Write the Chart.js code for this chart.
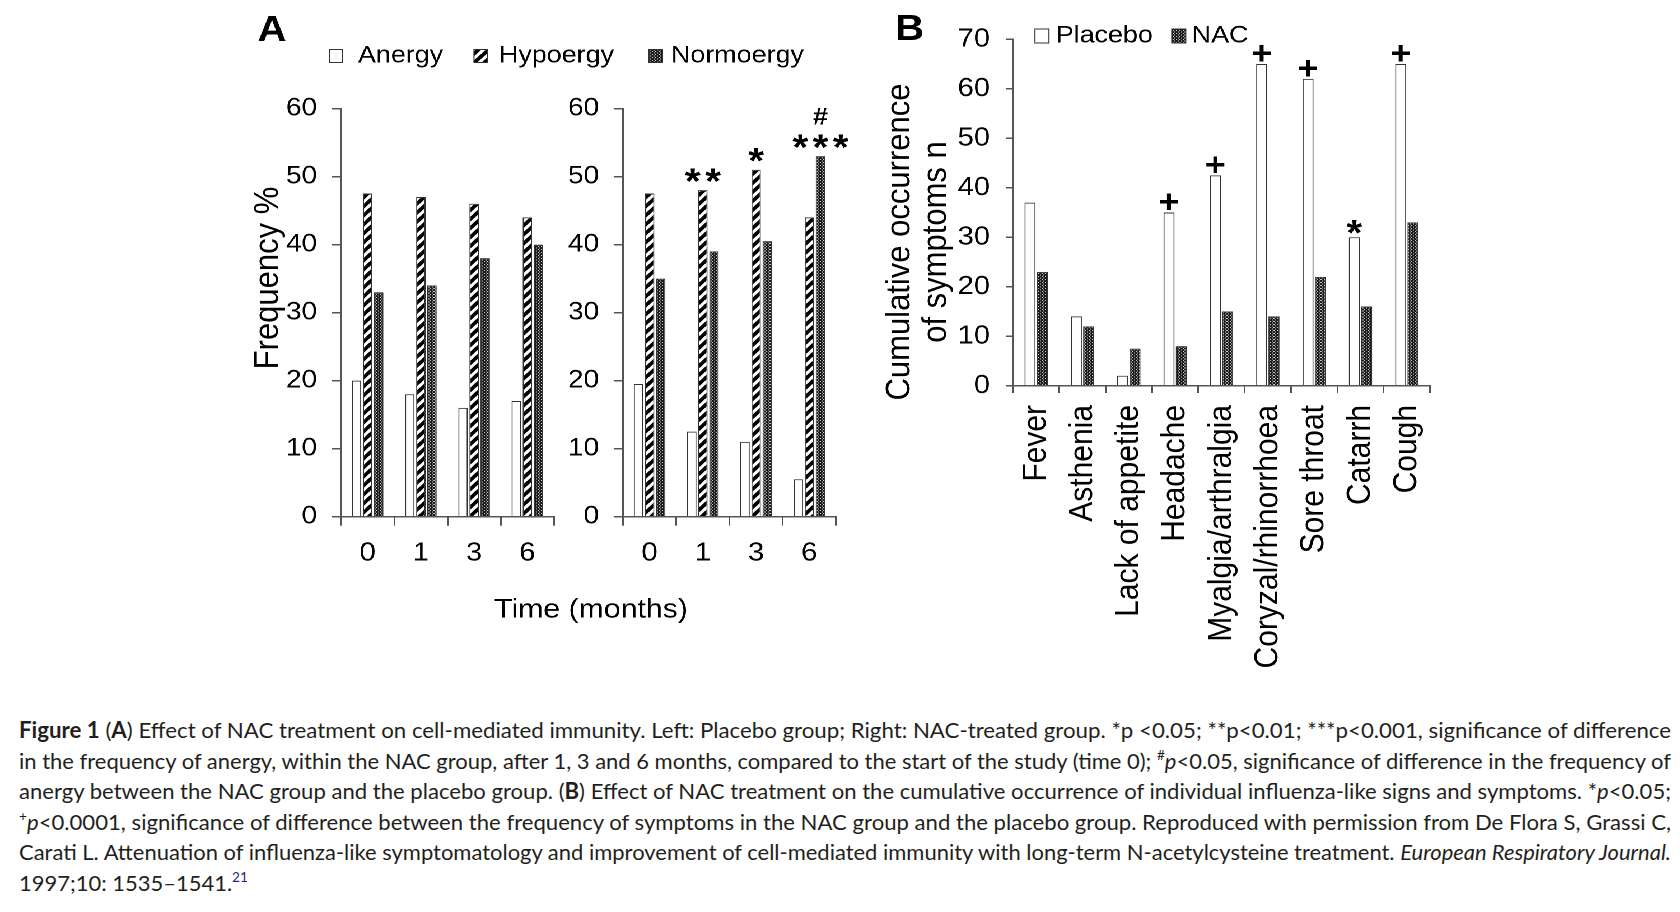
<!DOCTYPE html>
<html>
<head>
<meta charset="utf-8">
<script src="https://cdn.jsdelivr.net/npm/chart.js@4.4.1/dist/chart.umd.min.js"></script>
<style>
  html, body { margin: 0; padding: 0; background: #fff; }
  body { width: 1680px; height: 912px; position: relative; overflow: hidden; }
  /* the figure in the reference is stretched sideways, so draw narrower and widen it */
  #figure { position: absolute; left: 0; top: 0; width: 1500px; height: 700px; transform: scaleX(1.12); transform-origin: 0 0; }
  #figure canvas { position: absolute; left: 0; top: 0; }
  #caption { position: absolute; left: 19px; top: 715px; font-family: Lato, 'Open Sans', sans-serif; font-size: 22px; line-height: 30.6px; color: #231f20; }
  #caption .line { white-space: nowrap; height: 30.6px; }
  #caption .line span.t { display: inline-block; transform-origin: 0 50%; }
  #caption sup { font-size: 0.62em; line-height: 0; vertical-align: 0.65em; }
  #caption .ref { color: #1f2a8a; }
</style>
</head>
<body>
<div id="figure">
  <canvas id="chartA1" width="1500" height="700"></canvas>
  <canvas id="chartA2" width="1500" height="700"></canvas>
  <canvas id="chartB" width="1500" height="700"></canvas>
</div>
<div id="caption">
  <div class="line"><span class="t"><b>Figure 1</b> (<b>A</b>) Effect of NAC treatment on cell-mediated immunity. Left: Placebo group; Right: NAC-treated group. *p &lt;0.05; **p&lt;0.01; ***p&lt;0.001, significance of difference</span></div>
  <div class="line"><span class="t">in the frequency of anergy, within the NAC group, after 1, 3 and 6 months, compared to the start of the study (time 0); <sup>#</sup><i>p</i>&lt;0.05, significance of difference in the frequency of</span></div>
  <div class="line"><span class="t">anergy between the NAC group and the placebo group. (<b>B</b>) Effect of NAC treatment on the cumulative occurrence of individual influenza-like signs and symptoms. *<i>p</i>&lt;0.05;</span></div>
  <div class="line"><span class="t"><sup>+</sup><i>p</i>&lt;0.0001, significance of difference between the frequency of symptoms in the NAC group and the placebo group. Reproduced with permission from De Flora S, Grassi C,</span></div>
  <div class="line"><span class="t">Carati L. Attenuation of influenza-like symptomatology and improvement of cell-mediated immunity with long-term N-acetylcysteine treatment. <i>European Respiratory Journal.</i></span></div>
  <div class="line"><span class="t last">1997;10: 1535–1541.<sup class="ref">21</sup></span></div>
</div>
<script>
const SX = 1.12;
const W = 1500, H = 700;

// panel A: frequency % by time (months)
const timeLabels = ['0', '1', '3', '6'];
const placeboAnergy = [20, 18, 16, 17];
const placeboHypoergy = [47.5, 47, 46, 44];
const placeboNormoergy = [33, 34, 38, 40];
const nacAnergy = [19.5, 12.5, 11, 5.5];
const nacHypoergy = [47.5, 48, 51, 44];
const nacNormoergy = [35, 39, 40.5, 53];
const nacStars = ['', '**', '*', '***'];
const nacHash = ['', '', '', '#'];
const frequencyTicks = [0, 10, 20, 30, 40, 50, 60];

// panel B: cumulative occurrence of symptoms
const symptoms = ['Fever', 'Asthenia', 'Lack of appetite', 'Headache', 'Myalgia/arthralgia', 'Coryzal/rhinorrhoea', 'Sore throat', 'Catarrh', 'Cough'];
const symptomPlacebo = [37, 14, 2, 35, 42.5, 65, 62, 30, 65];
const symptomNac = [23, 12, 7.5, 8, 15, 14, 22, 16, 33];
const symptomMarks = ['', '', '', '+', '+', '+', '+', '*', '+'];
const occurrenceTicks = [0, 10, 20, 30, 40, 50, 60, 70];

Chart.defaults.font.family = '"Liberation Sans", Arial, sans-serif';
Chart.defaults.color = '#000';

const AXIS = '#555';
const EDGE = '#333';

function tile(size, paint) {
  const c = document.createElement('canvas');
  c.width = c.height = size;
  const g = c.getContext('2d');
  paint(g, size);
  const p = g.createPattern(c, 'repeat');
  p.setTransform(new DOMMatrix().scale(0.5));
  return p;
}

const stripes = tile(18, (g, s) => {
  g.fillStyle = '#fff';
  g.fillRect(0, 0, s, s);
  g.strokeStyle = '#000';
  g.lineWidth = 7;
  g.beginPath();
  g.moveTo(-4, s + 4); g.lineTo(s + 4, -4);
  g.moveTo(-4, 4); g.lineTo(4, -4);
  g.moveTo(s - 4, s + 4); g.lineTo(s + 4, s - 4);
  g.stroke();
});

const dots = tile(6, (g, s) => {
  g.fillStyle = '#1c1c1c';
  g.fillRect(0, 0, s, s);
  g.fillStyle = '#c8c8c8';
  g.fillRect(0, 0, 2, 2);
  g.fillRect(3, 3, 2, 2);
});

function padFor(area, yW, xH) {
  return { left: area.left - yW, right: W - area.right, top: area.top, bottom: H - area.bottom - xH };
}

function yAxis(ticks, width, tickLen, pad, size) {
  return {
    min: ticks[0], max: ticks[ticks.length - 1],
    afterBuildTicks: s => { s.ticks = ticks.map(v => ({ value: v })); },
    ticks: { font: { size: size }, padding: pad },
    grid: { drawOnChartArea: false, drawTicks: true, tickLength: tickLen, color: AXIS, lineWidth: 1.5 },
    border: { color: AXIS, width: 1.5 },
    afterFit: s => { s.width = width; }
  };
}

function xAxis(height, tickLen, pad, size, rotation) {
  return {
    ticks: { font: { size: size }, padding: pad, autoSkip: false, minRotation: rotation, maxRotation: rotation },
    grid: { offset: true, drawOnChartArea: false, drawTicks: true, tickLength: tickLen, color: AXIS, lineWidth: 1.5 },
    border: { color: AXIS, width: 1.5 },
    afterFit: s => { s.height = height; }
  };
}

function bars(label, data, fill) {
  return { label: label, data: data, backgroundColor: fill, borderColor: EDGE, borderWidth: 1 };
}

function legendItem(ctx, x, textX, y, w, h, fill, label) {
  ctx.fillStyle = fill;
  ctx.fillRect(x, y - h / 2, w, h);
  ctx.strokeStyle = EDGE;
  ctx.lineWidth = 1;
  ctx.strokeRect(x, y - h / 2, w, h);
  ctx.fillStyle = '#000';
  ctx.textAlign = 'left';
  ctx.textBaseline = 'middle';
  ctx.fillText(label, textX, y);
}

function rotatedText(ctx, text, x, y) {
  ctx.save();
  ctx.translate(x, y);
  ctx.rotate(-Math.PI / 2);
  ctx.textAlign = 'center';
  ctx.textBaseline = 'middle';
  ctx.fillText(text, 0, 0);
  ctx.restore();
}

const base = { responsive: false, devicePixelRatio: 2, animation: false, events: [] };

// left half of panel A (placebo) also carries the panel letter, legend and axis titles
const areaA1 = { left: 341 / SX, right: 554 / SX, top: 108.5, bottom: 516.7 };
new Chart(document.getElementById('chartA1'), {
  type: 'bar',
  data: {
    labels: timeLabels,
    datasets: [
      bars('Anergy', placeboAnergy, '#fff'),
      bars('Hypoergy', placeboHypoergy, stripes),
      bars('Normoergy', placeboNormoergy, dots)
    ]
  },
  options: Object.assign({}, base, {
    layout: { padding: padFor(areaA1, 100, 110) },
    datasets: { bar: { categoryPercentage: 0.625, barPercentage: 0.85 } },
    scales: { x: xAxis(110, 9, 12, 26, 0), y: yAxis(frequencyTicks, 100, 8.3, 13, 25) },
    plugins: { legend: { display: false }, tooltip: { enabled: false } }
  }),
  plugins: [{
    id: 'panelA',
    afterDraw(chart) {
      const ctx = chart.ctx;
      ctx.save();
      ctx.fillStyle = '#000';
      ctx.font = 'bold 36px "Liberation Sans"';
      ctx.textAlign = 'center';
      ctx.textBaseline = 'alphabetic';
      ctx.fillText('A', 272 / SX, 41);
      ctx.font = '24px "Liberation Sans"';
      const ds = chart.data.datasets;
      legendItem(ctx, 294, 319.6, 56, 12, 13, ds[0].backgroundColor, ds[0].label);
      legendItem(ctx, 423.2, 445.5, 56, 12, 13, ds[1].backgroundColor, ds[1].label);
      legendItem(ctx, 579.5, 599.1, 56, 12, 13, ds[2].backgroundColor, ds[2].label);
      ctx.fillStyle = '#000';
      ctx.font = '31px "Liberation Sans"';
      rotatedText(ctx, 'Frequency %', 268 / SX, 278);
      ctx.textAlign = 'center';
      ctx.textBaseline = 'middle';
      ctx.font = '27px "Liberation Sans"';
      ctx.fillText('Time (months)', 591 / SX, 610);
      ctx.restore();
    }
  }]
});

// right half of panel A (NAC) with significance marks
const areaA2 = { left: 623 / SX, right: 836 / SX, top: 108.5, bottom: 516.7 };
new Chart(document.getElementById('chartA2'), {
  type: 'bar',
  data: {
    labels: timeLabels,
    datasets: [
      bars('Anergy', nacAnergy, '#fff'),
      bars('Hypoergy', nacHypoergy, stripes),
      bars('Normoergy', nacNormoergy, dots)
    ]
  },
  options: Object.assign({}, base, {
    layout: { padding: padFor(areaA2, 100, 110) },
    datasets: { bar: { categoryPercentage: 0.625, barPercentage: 0.85 } },
    scales: { x: xAxis(110, 9, 12, 26, 0), y: yAxis(frequencyTicks, 100, 8.3, 13, 25) },
    plugins: { legend: { display: false }, tooltip: { enabled: false } }
  }),
  plugins: [{
    id: 'starsA',
    afterDatasetsDraw(chart) {
      const ctx = chart.ctx;
      const ds = chart.data.datasets;
      ctx.save();
      ctx.fillStyle = '#000';
      ctx.textAlign = 'center';
      ctx.textBaseline = 'alphabetic';
      nacStars.forEach((mark, i) => {
        if (!mark) return;
        let top = 0;
        ds.forEach((d, k) => { if (d.data[i] > ds[top].data[i]) top = k; });
        const bar = chart.getDatasetMeta(top).data[i];
        ctx.font = 'bold 36px "Liberation Sans"';
        ctx.letterSpacing = '4px';
        ctx.fillText(mark, bar.x + 2, bar.y + 3.5);
        if (nacHash[i]) {
          ctx.letterSpacing = '0px';
          ctx.font = 'bold 24px "Liberation Sans"';
          ctx.fillText(nacHash[i], bar.x, bar.y - 31.5);
        }
      });
      ctx.restore();
    }
  }]
});

// panel B
const areaB = { left: 1013 / SX, right: 1430 / SX, top: 39.3, bottom: 385.7 };
new Chart(document.getElementById('chartB'), {
  type: 'bar',
  data: {
    labels: symptoms,
    datasets: [
      bars('Placebo', symptomPlacebo, '#fff'),
      bars('NAC', symptomNac, dots)
    ]
  },
  options: Object.assign({}, base, {
    layout: { padding: padFor(areaB, 100, 300) },
    datasets: { bar: { categoryPercentage: 0.53, barPercentage: 0.9 } },
    scales: { x: xAxis(300, 7.3, 12, 30, 90), y: yAxis(occurrenceTicks, 100, 6.5, 14, 26) },
    plugins: { legend: { display: false }, tooltip: { enabled: false } }
  }),
  plugins: [{
    id: 'panelB',
    afterDraw(chart) {
      const ctx = chart.ctx;
      const ds = chart.data.datasets;
      ctx.save();
      ctx.fillStyle = '#000';
      ctx.font = 'bold 36px "Liberation Sans"';
      ctx.textAlign = 'left';
      ctx.textBaseline = 'alphabetic';
      ctx.fillText('B', 895 / SX, 40);
      ctx.font = '24px "Liberation Sans"';
      legendItem(ctx, 924.1, 942.6, 36, 12.5, 14, ds[0].backgroundColor, ds[0].label);
      legendItem(ctx, 1046.2, 1064, 36, 12.5, 14, ds[1].backgroundColor, ds[1].label);
      ctx.fillStyle = '#000';
      ctx.font = '31px "Liberation Sans"';
      rotatedText(ctx, 'Cumulative occurrence', 900 / SX, 242);
      rotatedText(ctx, 'of symptoms n', 936.5 / SX, 242);
      ctx.textAlign = 'center';
      ctx.textBaseline = 'alphabetic';
      symptomMarks.forEach((mark, i) => {
        if (!mark) return;
        const bar = chart.getDatasetMeta(0).data[i];
        if (mark === '+') {
          ctx.font = 'bold 32px "Liberation Sans"';
          ctx.fillText(mark, bar.x, bar.y);
        } else {
          ctx.font = 'bold 36px "Liberation Sans"';
          ctx.fillText(mark, bar.x, bar.y + 8);
        }
      });
      ctx.restore();
    }
  }]
});

// caption lines are squeezed to the reference line width
let lastScale = 1;
document.querySelectorAll('#caption span.t').forEach(el => {
  if (el.classList.contains('last')) {
    el.style.transform = 'scaleX(' + lastScale + ')';
    return;
  }
  lastScale = 1652 / el.getBoundingClientRect().width;
  el.style.transform = 'scaleX(' + lastScale + ')';
});
</script>
</body>
</html>
